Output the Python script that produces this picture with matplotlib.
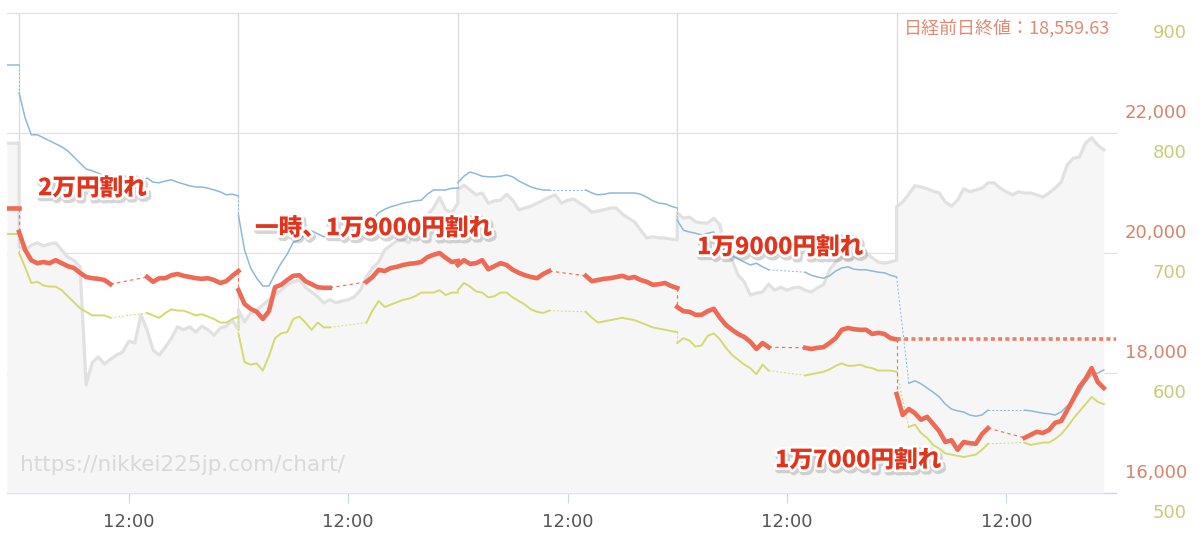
import numpy as np
import matplotlib
matplotlib.use('Agg')
import matplotlib.pyplot as plt
import matplotlib.patheffects as pe

nan = np.nan

# 5 trading days, sessions sampled every 10 minutes (minutes after 9:00)
DAYS = ['3/9', '3/10', '3/11', '3/12', '3/13']
AM_MIN = list(range(0, 151, 10))     # 9:00 - 11:30
PM_MIN = list(range(210, 361, 10))   # 12:30 - 15:00
ALL_MIN = list(range(0, 361, 10))    # 9:00 - 15:00 (continuous series)
PREV_MIN = [340, 350, 360]           # tail of the previous day

RED_TICKS = [16000, 18000, 20000, 22000, 24000]
YEL_TICKS = [500, 600, 700, 800, 900]
PREV_CLOSE = 18559.63

# Nikkei 225 (red)
red_prev = 20750
red_am = [
    [20350, 20050, 19880, 19830, 19850, 19830, 19880, 19830, 19780, 19750, 19670, 19600, 19580, 19570, 19550, 19480],
    [19380, 19150, 19070, 19020, 18900, 19030, 19430, 19470, 19550, 19620, 19630, 19530, 19480, 19430, 19420, 19420],
    [19800, 19880, 19820, 19830, 19880, 19730, 19780, 19830, 19800, 19720, 19670, 19630, 19600, 19580, 19650, 19700],
    [19100, 19030, 19020, 18970, 18970, 19030, 19070, 18920, 18800, 18720, 18650, 18600, 18520, 18400, 18500, 18430],
    [17650, 17300, 17400, 17330, 17220, 17270, 17150, 17030, 16850, 16880, 16720, 16850, 16830, 16820, 16980, 17080],
]
red_pm = [
    [19600, 19520, 19580, 19580, 19630, 19650, 19620, 19600, 19580, 19570, 19580, 19550, 19500, 19530, 19620, 19699],
    [19520, 19600, 19720, 19700, 19750, 19770, 19800, 19820, 19830, 19850, 19930, 19970, 20000, 19920, 19850, 19867],
    [19620, 19530, 19550, 19570, 19580, 19600, 19620, 19580, 19600, 19550, 19520, 19470, 19480, 19500, 19450, 19416],
    [18420, 18400, 18420, 18430, 18500, 18580, 18720, 18750, 18730, 18720, 18720, 18650, 18670, 18650, 18580, 18560],
    [16920, 16970, 17020, 17000, 17050, 17170, 17200, 17380, 17570, 17770, 17900, 18080, 17850, 17750],
]

# second index (yellow, 500-900 scale)
yel_prev = 716
yel_am = [
    [700, 688, 675, 676, 673, 672, 672, 669, 664, 659, 654, 651, 648, 648, 648, 646],
    [633, 609, 607, 608, 602, 614, 629, 633, 634, 645, 647, 642, 636, 642, 638, 638],
    [669, 675, 672, 668, 667, 663, 664, 667, 667, 663, 660, 657, 653, 651, 650, 652],
    [625, 629, 627, 622, 623, 631, 633, 628, 621, 615, 611, 607, 604, 599, 607, 602],
    [nan, nan, 555, 557, 550, 546, 540, 537, 533, 532, 531, 530, 531, 532, 536, 541],
]
yel_pm = [
    [650, 648, 646, 650, 653, 652, 652, 650, 648, 649, 647, 645, 642, 642, 645, 647],
    [642, 652, 660, 655, 657, 659, 661, 662, 664, 667, 667, 667, 669, 665, 667, 667],
    [651, 646, 642, 643, 644, 645, 646, 645, 644, 642, 640, 638, 637, 636, 635, 634],
    [598, 599, 600, 601, 603, 606, 608, 606, 606, 607, 605, 604, 602, 602, 602, 601],
    [542, 540, 541, 542, 542, 545, 549, 555, 562, 568, 574, 580, 576, 574],
]

# third index (blue, own hidden scale)
blue_prev = 23130
blue_am = [
    [22670, 22250, 21970, 21970, 21920, 21870, 21820, 21770, 21700, 21600, 21500, 21400, 21370, 21330, 21280, 21250],
    [20630, 20050, 19750, 19580, 19450, 19450, 19650, 19830, 19980, 20180, 20220, 20320, 20370, 20320, 20270, 20300],
    [21170, 21280, 21350, 21320, 21280, 21270, 21270, 21280, 21300, 21270, 21200, 21150, 21100, 21070, 21050, 21050],
    [20550, 20380, 20350, 20330, 20300, 20330, 20350, 20180, 20000, 19950, 19900, 19850, 19800, 19830, 19770, 19720],
    [nan, nan, 17830, 17870, 17820, 17750, 17680, 17600, 17480, 17400, 17370, 17350, 17300, 17280, 17300, 17380],
]
blue_pm = [
    [21250, 21180, 21170, 21200, 21220, 21180, 21150, 21120, 21100, 21100, 21080, 21050, 21020, 20970, 20980, 20950],
    [20330, 20550, 20670, 20730, 20770, 20800, 20830, 20850, 20870, 20880, 20980, 21050, 21050, 21050, 21080, 21080],
    [21050, 21000, 20970, 20980, 21000, 21000, 21000, 21000, 21000, 20980, 20930, 20870, 20830, 20820, 20780, 20750],
    [19680, 19630, 19600, 19580, 19620, 19700, 19750, 19770, 19730, 19720, 19720, 19700, 19680, 19670, 19630, 19600],
    [17380, 17370, 17350, 17330, 17320, 17300, 17350, 17450, 17530, 17680, 17850, 17970, 18000, 18050],
]

# continuous series (gray area, own hidden scale)
gray_prev = 21830
gray = [
    [20100, 20050, 20130, 20170, 20120, 20150, 20170, 20050, 19930, 19880, 19770, 17800, 18170, 18270, 18150, 18230,
     18300, 18350, 18530, 18500, 18970, 18720, 18380, 18300, 18430, 18580, 18770, 18720, 18770, 18680, 18780, 18720,
     18630, 18750, 18780, 18880, 18720],
    [19050, 18850, 19000, 19050, 19130, 19220, 19300, 19380, 19470, 19520, 19550, 19430, 19350, 19270, 19170, 19220,
     19170, 19200, 19220, 19270, 19380, 19600, 19750, 19850, 20050, 20130, 20200, 20220, 20170, 20420, 20430, 20630,
     20750, 20930, 20720, 20670, 20830],
    [21050, 21130, 21050, 20970, 21000, 20830, 20870, 20880, 20980, 20880, 20720, 20750, 20780, 20830, 20880, 20930,
     20970, 20830, 20880, 20900, 20830, 20770, 20680, 20700, 20720, 20750, 20750, 20650, 20580, 20520, 20380, 20250,
     20270, 20250, 20250, 20230, 20220],
    [20670, 20580, 20600, 20520, 20500, 20500, 20580, 20470, 20020, 19880, 19630, 19520, 19300, 19330, 19350, 19480,
     19380, 19430, 19380, 19420, 19430, 19380, 19350, 19420, 19470, 19720, 19850, 19930, 19880, 19920, 19950, 20000,
     19920, 19850, 19830, 19850, 19880],
    [20770, 20850, 20980, 21120, 21100, 21070, 21030, 21000, 20850, 20780, 20880, 21070, 21020, 21050, 21080, 21170,
     21170, 21080, 21020, 20970, 21020, 21000, 21000, 20970, 20930, 21000, 21080, 21180, 21470, 21580, 21600, 21830,
     21920, 21800, 21720],
]

RED = '#ee6a55'
YEL = '#d3da70'
BLUE = '#8dbad6'
GRAY = '#e1e1e1'
JP = ['Noto Sans CJK JP', 'DejaVu Sans']


def to_x(day, minutes):
    return day + np.asarray(minutes, dtype=float) / 360.0


def sessions(prev, am, pm):
    segs = [(to_x(-1, PREV_MIN), np.full(len(PREV_MIN), prev, dtype=float))]
    for d in range(len(DAYS)):
        segs.append((to_x(d, AM_MIN[:len(am[d])]), np.array(am[d], dtype=float)))
        segs.append((to_x(d, PM_MIN[:len(pm[d])]), np.array(pm[d], dtype=float)))
    return segs


def draw_sessions(axis, segs, color, lw, dash_lw, dashes, z):
    last = None
    for x, y in segs:
        ok = ~np.isnan(y)
        x, y = x[ok], y[ok]
        axis.plot(x, y, color=color, lw=lw, solid_joinstyle='round', zorder=z)
        if last is not None:
            axis.plot([last[0], x[0]], [last[1], y[0]], color=color, lw=dash_lw,
                      linestyle=(0, dashes), zorder=z - 0.5)
        last = (x[-1], y[-1])


fig = plt.figure(figsize=(12, 5.48), dpi=100)
ax = fig.add_axes([7 / 1200, 55 / 548, 1109 / 1200, 480 / 548])
ax.set_xlim(-0.055, len(DAYS))
ax.set_ylim(RED_TICKS[0], RED_TICKS[-1])
for s in ['top', 'left', 'right']:
    ax.spines[s].set_visible(False)
ax.spines['bottom'].set_color('#ccd6eb')
ax.spines['bottom'].set_linewidth(1.0)
ax.set_yticks([])
ax.set_xticks([d + 0.5 for d in range(len(DAYS))])
ax.set_xticklabels(['12:00'] * len(DAYS))
ax.tick_params(axis='x', length=7.2, width=0.8, color='#ccd6eb', labelcolor='#555555',
               labelsize=13, pad=7)
for d in range(len(DAYS)):
    ax.axvline(d, color='#dadada', lw=0.9, zorder=0)
for v in RED_TICKS[1:]:
    ax.axhline(v, color='#e2e2e2', lw=0.9, zorder=0, clip_on=False)

# gray area series
ax_g = ax.twinx()
ax_g.set_ylim(RED_TICKS[0], RED_TICKS[-1])
ax_g.axis('off')
gx = [to_x(-1, PREV_MIN)] + [to_x(d, ALL_MIN[:len(gray[d])]) for d in range(len(DAYS))]
gy = [np.full(len(PREV_MIN), gray_prev, dtype=float)] + [np.array(g, dtype=float) for g in gray]
gx = np.concatenate(gx)
gy = np.concatenate(gy)
ax_g.fill_between(gx, gy, RED_TICKS[0], color='#f6f6f6', lw=0, zorder=1)
ax_g.plot(gx, gy, color=GRAY, lw=2.3, zorder=2)

# blue series
ax_b = ax.twinx()
ax_b.set_ylim(RED_TICKS[0], RED_TICKS[-1])
ax_b.axis('off')
draw_sessions(ax_b, sessions(blue_prev, blue_am, blue_pm), BLUE, 1.1, 0.7, (2, 2), 3)

# yellow series
ax_y = ax.twinx()
ax_y.set_ylim(YEL_TICKS[0], YEL_TICKS[-1])
ax_y.axis('off')
draw_sessions(ax_y, sessions(yel_prev, yel_am, yel_pm), YEL, 1.4, 0.7, (2, 2), 3)

# Nikkei
ax_r = ax.twinx()
ax_r.set_ylim(RED_TICKS[0], RED_TICKS[-1])
ax_r.axis('off')
draw_sessions(ax_r, sessions(red_prev, red_am, red_pm), RED, 3.3, 0.8, (3, 3), 4)
ax_r.hlines(PREV_CLOSE, len(DAYS) - 1, len(DAYS), color='#ef7c68', lw=2.6,
            linestyles=(0, (1.1, 0.9)), zorder=4)

# right-hand scale labels
for v in RED_TICKS:
    ax_r.annotate(f'{v:,}', xy=(1, v), xycoords=('axes fraction', 'data'), xytext=(71, 20),
                  textcoords='offset pixels', ha='right', va='center', fontsize=13,
                  color='#d9826b', annotation_clip=False)
for v in YEL_TICKS:
    ax_y.annotate(f'{v}', xy=(1, v), xycoords=('axes fraction', 'data'), xytext=(71, -20),
                  textcoords='offset pixels', ha='right', va='center', fontsize=13,
                  color='#c8cc78', annotation_clip=False)

fig.text(1110 / 1200, 1 - 28 / 548, f'日経前日終値：{PREV_CLOSE:,.2f}', ha='right', va='center',
         fontsize=13, color='#e08a76', family=JP)
fig.text(20 / 1200, 1 - 465 / 548, 'https://nikkei225jp.com/chart/', ha='left', va='center',
         fontsize=15.5, color='#d9d9d9')

fx = [pe.Stroke(linewidth=5, foreground='#888888', alpha=0.35, offset=(1.2, -1.8)),
      pe.Stroke(linewidth=4, foreground='white'), pe.Normal()]
notes = [('2万円割れ', 38, 188), ('一時、1万9000円割れ', 255, 228),
         ('1万9000円割れ', 697, 247), ('1万7000円割れ', 775, 460)]
for txt, px, py in notes:
    fig.text(px / 1200, 1 - py / 548, txt, ha='left', va='center', fontsize=17,
             fontweight='black', color='#e0341c', family=JP, path_effects=fx, zorder=10)

fig.savefig('out.png', dpi=100)
